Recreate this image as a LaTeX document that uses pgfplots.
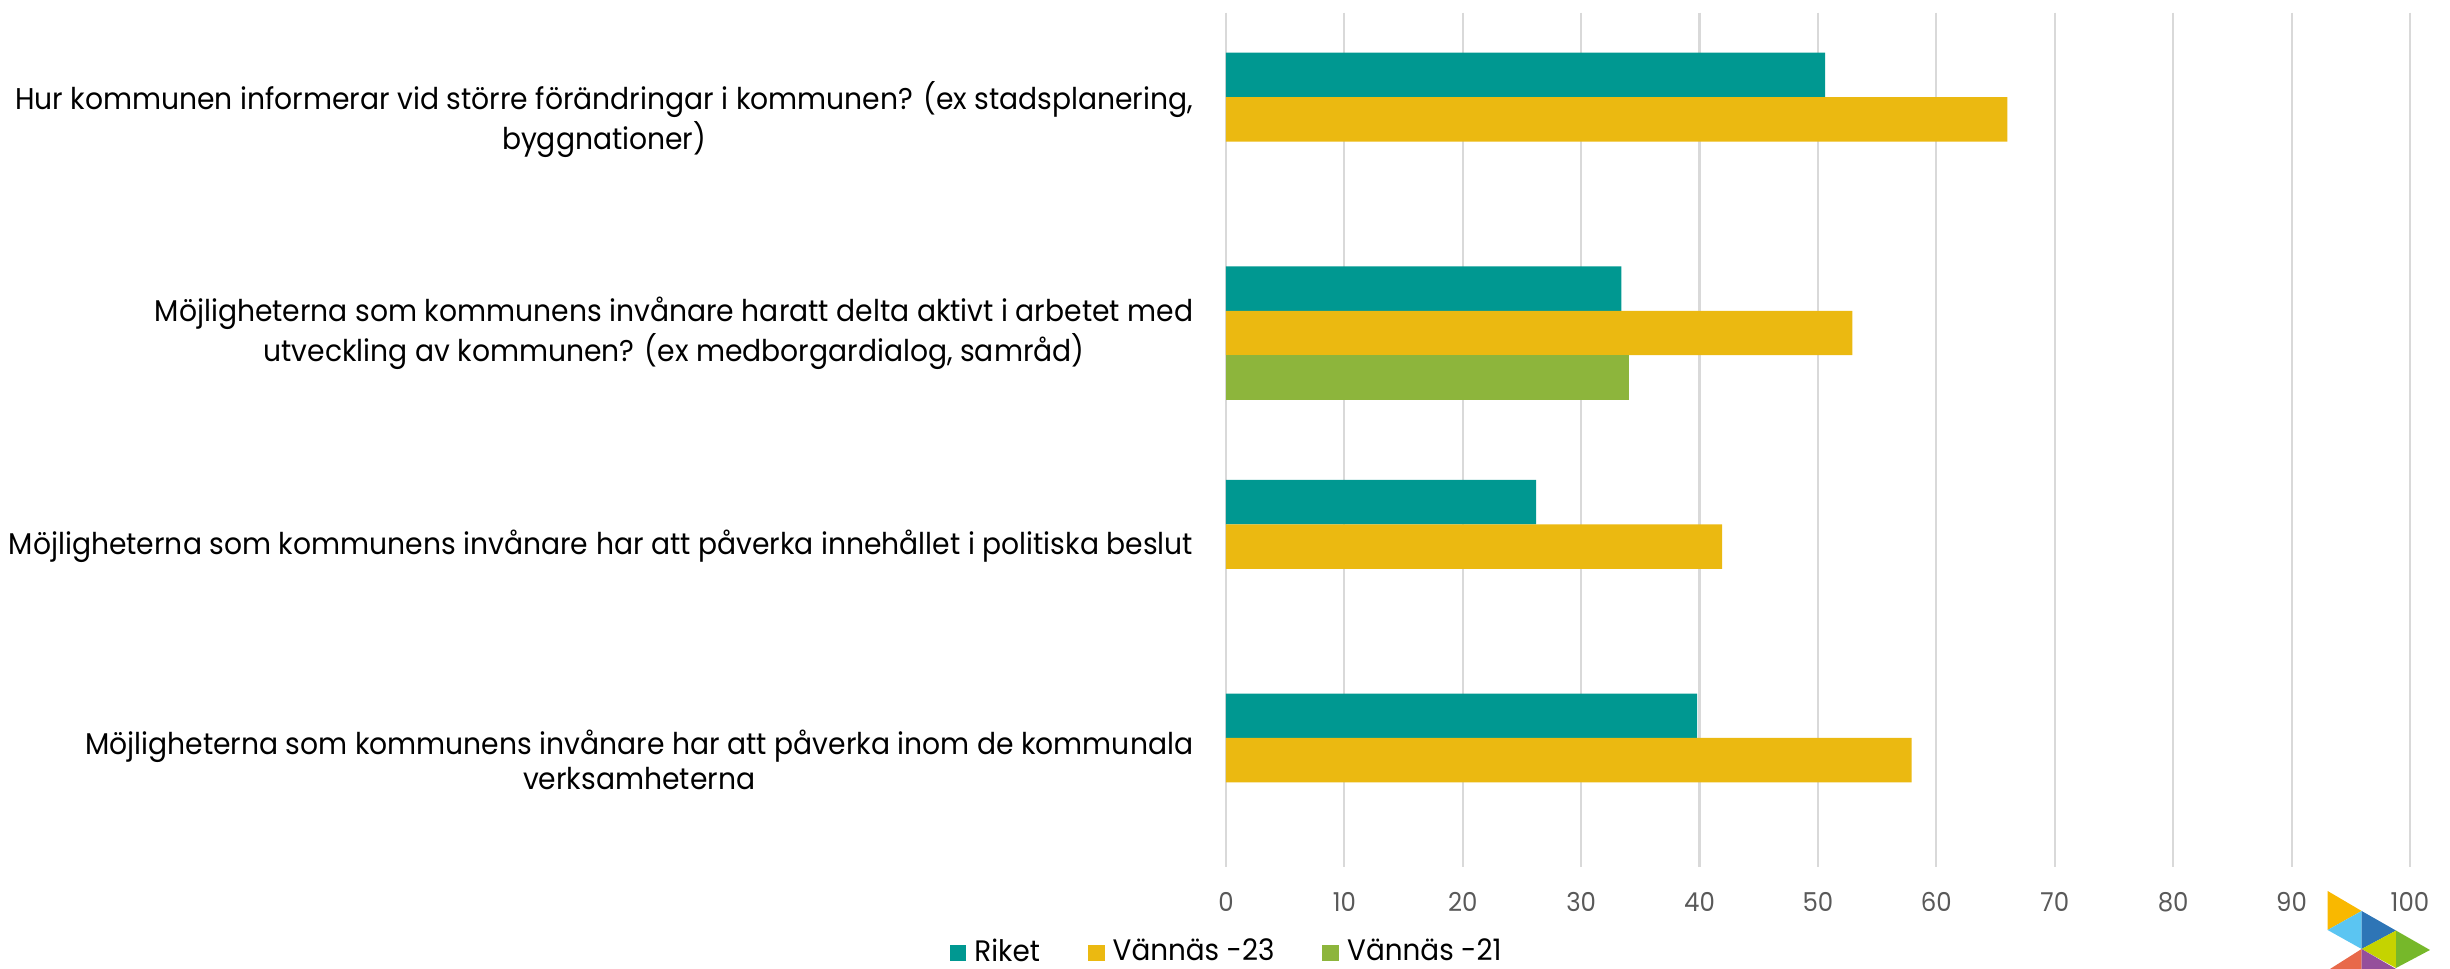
\documentclass[border=0pt]{standalone}
\usepackage{fontspec}
\setmainfont{Poppins}[FakeStretch=0.94]
\usepackage{pgfplots}
\pgfplotsset{compat=1.18}
\definecolor{riket}{HTML}{009891}
\definecolor{v23}{HTML}{EBB911}
\definecolor{v21}{HTML}{8DB53C}
\definecolor{gridc}{HTML}{D9D9D9}
\definecolor{tickc}{HTML}{595959}
\begin{document}
\begin{tikzpicture}
\useasboundingbox (-306.5pt,-25.5pt) rectangle (306pt,216.75pt);
\begin{axis}[
    at={(0,0)}, anchor=south west,
    scale only axis,
    width=296pt, height=213.6pt,
    xbar, bar width=0.208,
    xmin=0, xmax=100, ymin=-0.5, ymax=3.5,
    y dir=reverse,
    xtick={0,10,...,100},
    ytick={0,1,2,3},
    yticklabels={
      {Hur kommunen informerar vid större förändringar i kommunen? (ex stadsplanering,\\byggnationer)},
      {Möjligheterna som kommunens invånare haratt delta aktivt i arbetet med\\utveckling av kommunen? (ex medborgardialog, samråd)},
      {Möjligheterna som kommunens invånare har att påverka innehållet i politiska beslut},
      {Möjligheterna som kommunens invånare har att påverka inom de kommunala\\verksamheterna}},
    yticklabel style={align=center, font=\fontsize{7.5}{8.75}\selectfont, inner sep=0pt, xshift=-8pt},
    xticklabel style={font=\fontsize{6.5}{7}\selectfont, text=tickc, yshift=-2.75pt},
    /pgf/number format/assume math mode=true,
    major tick length=0pt,
    axis line style={draw=none},
    xmajorgrids, major grid style={draw=gridc, line width=0.55pt},
    legend style={at={(0.003,-0.1006)}, anchor=center, draw=none, fill=none,
      legend columns=-1, font=\fontsize{7.4}{8}\selectfont,
      /tikz/every even column/.append style={column sep=10pt}},
    legend image code/.code={\fill[#1] (0pt,-2.1pt) rectangle (4.2pt,2.1pt);},
    clip=false,
]
\addplot[fill=riket, draw=none, bar shift=-0.208] coordinates {(50.6,0) (33.4,1) (26.2,2) (39.8,3)};
\addplot[fill=v23, draw=none, bar shift=0] coordinates {(66.0,0) (52.9,1) (41.9,2) (57.9,3)};
\addplot[fill=v21, draw=none, bar shift=0.208] coordinates {(34.0,1)};
\legend{Riket, Vännäs -23, Vännäs -21}
\end{axis}
% logo
\fill[color={rgb,255:red,249;green,184;blue,0}] (275.4pt,-6pt) -- (283.9pt,-11pt) -- (275.4pt,-15.75pt) -- cycle;
\fill[color={rgb,255:red,91;green,197;blue,242}] (275.4pt,-15.75pt) -- (283.9pt,-11pt) -- (283.9pt,-20.5pt) -- cycle;
\fill[color={rgb,255:red,46;green,117;blue,182}] (283.9pt,-11pt) -- (292.5pt,-15.9pt) -- (283.9pt,-20.5pt) -- cycle;
\fill[color={rgb,255:red,197;green,211;blue,0}] (283.9pt,-20.5pt) -- (292.5pt,-15.9pt) -- (292.5pt,-25.25pt) -- cycle;
\fill[color={rgb,255:red,118;green,184;blue,42}] (292.5pt,-15.9pt) -- (301pt,-20.75pt) -- (292.5pt,-25.25pt) -- cycle;
\fill[color={rgb,255:red,232;green,105;blue,74}] (276pt,-25.5pt) -- (283.9pt,-20.5pt) -- (283.9pt,-25.5pt) -- cycle;
\fill[color={rgb,255:red,149;green,79;blue,155}] (283.9pt,-20.5pt) -- (292.5pt,-25.5pt) -- (283.9pt,-25.5pt) -- cycle;
\end{tikzpicture}
\end{document}
